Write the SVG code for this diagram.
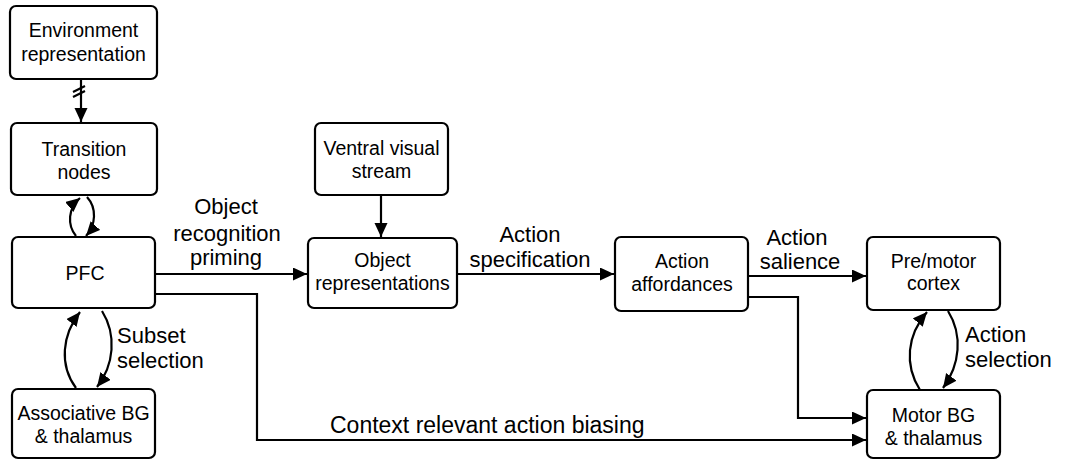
<svg xmlns="http://www.w3.org/2000/svg" width="1065" height="461" viewBox="0 0 1065 461">
  <style>
    .box { fill: #ffffff; stroke: #000000; stroke-width: 2.2; }
    .node-text { font-family: "Liberation Sans", Arial, sans-serif; font-size: 19.5px; fill: #000000; text-anchor: middle; }
    .edge-text { font-family: "Liberation Sans", Arial, sans-serif; font-size: 22px; fill: #000000; }
    .edge { fill: none; stroke: #000000; stroke-width: 2.2; }
    .arrow { marker-end: url(#head); }
  </style>
  <defs>
    <marker id="head" markerUnits="userSpaceOnUse" markerWidth="16" markerHeight="14" refX="14" refY="6.5" orient="auto">
      <path d="M0,0 L14,6.5 L0,13 z" fill="#000000"/>
    </marker>
  </defs>
  <rect width="1065" height="461" fill="#ffffff"/>

  <!-- connectors -->
  <g id="connectors">
    <!-- environment to transition nodes, with break mark -->
    <path class="edge arrow" d="M81,79 L81,122"/>
    <path class="edge" d="M73,92 L85,86 M73,97 L85,91"/>
    <!-- transition nodes <-> PFC -->
    <path class="edge arrow" d="M76,236 C67,225 68,208 80,198"/>
    <path class="edge arrow" d="M87,197 C97,208 96,225 86,236"/>
    <!-- PFC <-> associative BG -->
    <path class="edge arrow" d="M76,388 C59,365 62,335 80,312"/>
    <path class="edge arrow" d="M102,311 C117,335 114,365 97,387"/>
    <!-- PFC to object representations -->
    <path class="edge arrow" d="M155,274 L307,274"/>
    <!-- PFC to motor BG (context biasing) -->
    <path class="edge arrow" d="M155,294 L257,294 L257,440 L866,440"/>
    <!-- ventral stream to object representations -->
    <path class="edge arrow" d="M381,195 L381,237"/>
    <!-- object representations to action affordances -->
    <path class="edge arrow" d="M457,274 L614,274"/>
    <!-- action affordances to pre/motor cortex -->
    <path class="edge arrow" d="M748,276 L866,276"/>
    <!-- action affordances to motor BG -->
    <path class="edge arrow" d="M748,297 L798,297 L798,418 L866,418"/>
    <!-- pre/motor cortex <-> motor BG -->
    <path class="edge arrow" d="M920,390 C904,365 907,335 927,312"/>
    <path class="edge arrow" d="M948,311 C963,335 960,365 943,388"/>

    <!-- connector labels -->
    <text class="edge-text" text-anchor="middle" x="226" y="214">Object</text>
    <text class="edge-text" text-anchor="middle" x="227" y="241">recognition</text>
    <text class="edge-text" text-anchor="middle" x="226" y="265">priming</text>
    <text class="edge-text" x="117" y="343">Subset</text>
    <text class="edge-text" x="117" y="368">selection</text>
    <text class="edge-text" text-anchor="middle" x="530" y="242">Action</text>
    <text class="edge-text" text-anchor="middle" x="530" y="267">specification</text>
    <text class="edge-text" text-anchor="middle" x="797" y="245">Action</text>
    <text class="edge-text" text-anchor="middle" x="800" y="269">salience</text>
    <text class="edge-text" x="965" y="342">Action</text>
    <text class="edge-text" x="965" y="367">selection</text>
    <text class="edge-text" x="330" y="433" style="font-size:23px">Context relevant action biasing</text>
  </g>

  <!-- nodes -->
  <g id="environment">
    <rect class="box" x="10" y="6" width="147" height="73" rx="6"/>
    <text class="node-text" x="83.5" y="37">Environment</text>
    <text class="node-text" x="83.5" y="61">representation</text>
  </g>
  <g id="transition">
    <rect class="box" x="11" y="123" width="146" height="72" rx="6"/>
    <text class="node-text" x="84" y="156">Transition</text>
    <text class="node-text" x="84" y="179">nodes</text>
  </g>
  <g id="pfc">
    <rect class="box" x="12" y="237" width="143" height="71" rx="6"/>
    <text class="node-text" x="85" y="280">PFC</text>
  </g>
  <g id="associative-bg">
    <rect class="box" x="12" y="389" width="143" height="69" rx="6"/>
    <text class="node-text" x="83.5" y="420">Associative BG</text>
    <text class="node-text" x="83.5" y="443">&amp; thalamus</text>
  </g>
  <g id="ventral">
    <rect class="box" x="315" y="123" width="133" height="72" rx="6"/>
    <text class="node-text" x="381.5" y="155">Ventral visual</text>
    <text class="node-text" x="381.5" y="178">stream</text>
  </g>
  <g id="object-representations">
    <rect class="box" x="308" y="238" width="149" height="70" rx="6"/>
    <text class="node-text" x="382.5" y="267">Object</text>
    <text class="node-text" x="382.5" y="290">representations</text>
  </g>
  <g id="action-affordances">
    <rect class="box" x="615" y="237" width="133" height="74" rx="6"/>
    <text class="node-text" x="682" y="268">Action</text>
    <text class="node-text" x="682" y="291">affordances</text>
  </g>
  <g id="premotor">
    <rect class="box" x="867" y="237" width="133" height="73" rx="6"/>
    <text class="node-text" x="933.5" y="268">Pre/motor</text>
    <text class="node-text" x="933.5" y="290">cortex</text>
  </g>
  <g id="motor-bg">
    <rect class="box" x="867" y="390" width="133" height="68" rx="6"/>
    <text class="node-text" x="933.5" y="422">Motor BG</text>
    <text class="node-text" x="933.5" y="445">&amp; thalamus</text>
  </g>
</svg>
